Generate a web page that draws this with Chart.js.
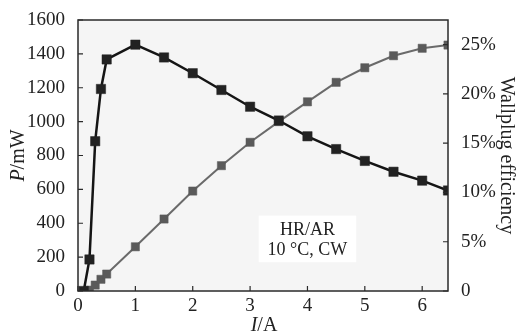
<!DOCTYPE html>
<html>
<head>
<meta charset="utf-8">
<script src="https://cdn.jsdelivr.net/npm/chart.js@4.4.1/dist/chart.umd.min.js"></script>
<style>
  html, body { margin: 0; padding: 0; background: #ffffff; }
  #wrap { width: 518px; height: 335px; position: relative; }
</style>
</head>
<body>
<div id="wrap"><canvas id="c" width="518" height="335"></canvas></div>
<script>
// ---- data ----
const effCurrent = [0.1, 0.2, 0.3, 0.4, 0.5, 1, 1.5, 2, 2.5, 3, 3.5, 4, 4.5, 5, 5.5, 6, 6.45];
const effPercent = [0, 3.2, 15.2, 20.5, 23.5, 25.0, 23.7, 22.1, 20.4, 18.7, 17.3, 15.7, 14.4, 13.2, 12.1, 11.2, 10.2];
const powCurrent = [0.2, 0.3, 0.4, 0.5, 1, 1.5, 2, 2.5, 3, 3.5, 4, 4.5, 5, 5.5, 6, 6.45];
const powMilliwatt = [5, 35, 69, 100, 261, 425, 590, 740, 878, 1000, 1117, 1232, 1318, 1389, 1433, 1452];
const xTicks = [0, 1, 2, 3, 4, 5, 6];
const leftTicks = [0, 200, 400, 600, 800, 1000, 1200, 1400, 1600];
const rightTicks = [0, 5, 10, 15, 20, 25];
const xMax = 6.45;
const leftMax = 1600;
const rightMax = 27.5;
const noteLines = ['HR/AR', '10 \u00B0C, CW'];

const SERIF = '"Liberation Serif", "DejaVu Serif", serif';
const TXT = '#222222';

const framePlugin = {
  id: 'frame',
  beforeDatasetsDraw(chart) {
    const a = chart.chartArea, ctx = chart.ctx;
    ctx.save();
    ctx.fillStyle = '#f5f5f5';
    ctx.fillRect(a.left, a.top, a.right - a.left, a.bottom - a.top);
    const sx = chart.scales.x, sy = chart.scales.y;
    const bx0 = sx.getPixelForValue(3.15), bx1 = sx.getPixelForValue(4.85);
    const by0 = sy.getPixelForValue(445), by1 = sy.getPixelForValue(170);
    ctx.fillStyle = '#ffffff';
    ctx.fillRect(bx0, by0, bx1 - bx0, by1 - by0);
    ctx.restore();
  },
  afterDraw(chart) {
    const a = chart.chartArea, ctx = chart.ctx;
    const sx = chart.scales.x, sy = chart.scales.y, sy1 = chart.scales.y1;
    ctx.save();
    ctx.strokeStyle = '#2a2a2a';
    ctx.lineWidth = 1.5;
    ctx.strokeRect(a.left, a.top, a.right - a.left, a.bottom - a.top);
    ctx.lineWidth = 1.2;
    const TL = 5;
    ctx.beginPath();
    xTicks.forEach(v => { const p = sx.getPixelForValue(v); ctx.moveTo(p, a.bottom); ctx.lineTo(p, a.bottom - TL); });
    leftTicks.forEach(v => { const p = sy.getPixelForValue(v); ctx.moveTo(a.left, p); ctx.lineTo(a.left + TL, p); });
    rightTicks.forEach(v => { const p = sy1.getPixelForValue(v); ctx.moveTo(a.right, p); ctx.lineTo(a.right - TL, p); });
    ctx.stroke();

    ctx.fillStyle = TXT;
    ctx.font = '18px ' + SERIF;
    ctx.textAlign = 'center';
    ctx.textBaseline = 'middle';
    const nx = sx.getPixelForValue(4.0);
    ctx.fillText(noteLines[0], nx, sy.getPixelForValue(360));
    ctx.fillText(noteLines[1], nx, sy.getPixelForValue(242));

    ctx.font = '20px ' + SERIF;
    ctx.save();
    ctx.translate(19, (a.top + a.bottom) / 2);
    ctx.rotate(-Math.PI / 2);
    ctx.textAlign = 'left';
    ctx.font = 'italic 20px ' + SERIF;
    const wP = ctx.measureText('P').width;
    ctx.font = '20px ' + SERIF;
    const wR = ctx.measureText('/mW').width;
    let start = -(wP + wR) / 2;
    ctx.font = 'italic 20px ' + SERIF;
    ctx.fillText('P', start, 0);
    ctx.font = '20px ' + SERIF;
    ctx.fillText('/mW', start + wP, 0);
    ctx.restore();

    ctx.save();
    ctx.translate(506, (a.top + a.bottom) / 2);
    ctx.rotate(Math.PI / 2);
    ctx.textAlign = 'center';
    ctx.fillText('Wallplug efficiency', 0, 0);
    ctx.restore();

    ctx.save();
    ctx.textAlign = 'left';
    ctx.font = 'italic 20px ' + SERIF;
    const wI = ctx.measureText('I').width;
    ctx.font = '20px ' + SERIF;
    const wA = ctx.measureText('/A').width;
    const cx = (a.left + a.right) / 2 + 1;
    start = cx - (wI + wA) / 2;
    ctx.font = 'italic 20px ' + SERIF;
    ctx.fillText('I', start, 326);
    ctx.font = '20px ' + SERIF;
    ctx.fillText('/A', start + wI, 326);
    ctx.restore();

    ctx.restore();
  }
};

function fixPad(s) { s.paddingTop = 0; s.paddingBottom = 0; s.paddingLeft = 0; s.paddingRight = 0; }

new Chart(document.getElementById('c'), {
  type: 'line',
  data: {
    datasets: [
      {
        label: 'Wallplug efficiency',
        data: effCurrent.map((x, i) => ({ x, y: effPercent[i] })),
        yAxisID: 'y1',
        borderColor: '#151515',
        borderWidth: 2.5,
        backgroundColor: '#222222',
        pointBackgroundColor: '#222222',
        pointBorderColor: '#222222',
        pointStyle: 'rect',
        pointRadius: 6.6,
        pointBorderWidth: 0.5,
        tension: 0
      },
      {
        label: 'P',
        data: powCurrent.map((x, i) => ({ x, y: powMilliwatt[i] })),
        yAxisID: 'y',
        borderColor: '#6a6a6a',
        borderWidth: 2,
        backgroundColor: '#5a5a5a',
        pointBackgroundColor: '#5a5a5a',
        pointBorderColor: '#5a5a5a',
        pointStyle: 'rect',
        pointRadius: 5.8,
        pointBorderWidth: 0.5,
        tension: 0
      }
    ]
  },
  plugins: [framePlugin],
  options: {
    responsive: false,
    animation: false,
    events: [],
    layout: { padding: { left: 26, right: 22, top: 20, bottom: 14 } },
    plugins: { legend: { display: false }, tooltip: { enabled: false } },
    scales: {
      x: {
        type: 'linear',
        min: 0, max: xMax,
        grid: { display: false },
        border: { display: false },
        afterFit: s => { s.height = 30; fixPad(s); },
        afterBuildTicks: s => { s.ticks = xTicks.map(v => ({ value: v })); },
        ticks: { color: TXT, font: { family: SERIF, size: 19 }, padding: -4, maxRotation: 0, autoSkip: false,
                 callback: v => String(v) }
      },
      y: {
        type: 'linear', position: 'left',
        min: 0, max: leftMax,
        grid: { display: false },
        border: { display: false },
        afterFit: s => { s.width = 52; fixPad(s); },
        afterBuildTicks: s => { s.ticks = leftTicks.map(v => ({ value: v })); },
        ticks: { color: TXT, font: { family: SERIF, size: 19 }, padding: 5, autoSkip: false,
                 callback: v => String(v) }
      },
      y1: {
        type: 'linear', position: 'right',
        min: 0, max: rightMax,
        grid: { display: false },
        border: { display: false },
        afterFit: s => { s.width = 48; fixPad(s); },
        afterBuildTicks: s => { s.ticks = rightTicks.map(v => ({ value: v })); },
        ticks: { color: TXT, font: { family: SERIF, size: 19 }, padding: 5, autoSkip: false,
                 callback: v => v === 0 ? '0' : v + '%' }
      }
    }
  }
});
</script>
</body>
</html>
